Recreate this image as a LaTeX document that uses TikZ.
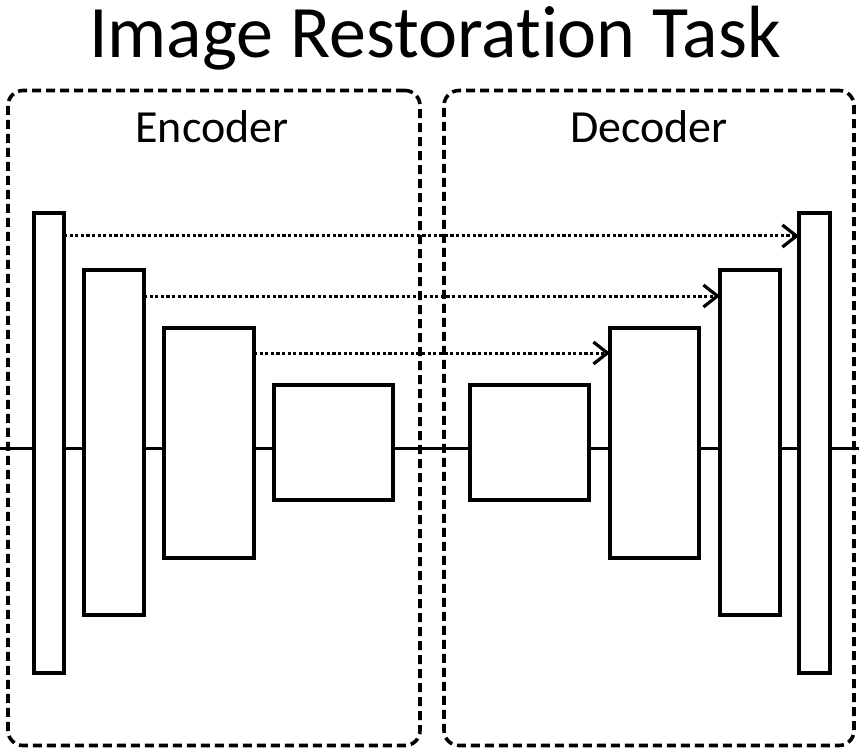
\documentclass[tikz,border=0pt]{standalone}
\usepackage{fontspec}
\setmainfont{Carlito}[Ligatures=NoCommon]
\usetikzlibrary{arrows.meta}

\tikzset{
  panel/.style={draw, line width=3.6pt, dash pattern=on 9pt off 5pt,
    rounded corners=15pt, inner sep=0pt, outer sep=0pt},
  block/.style={draw, fill=white, line width=3.4pt, inner sep=0pt, outer sep=0pt},
  spine/.style={line width=3pt},
  skip/.style={line width=3pt, dash pattern=on 3.2pt off 2.4pt,
    -{Straight Barb[length=14pt,width=22pt,line width=3.2pt]}},
  heading/.style={font=\fontsize{74}{80}\selectfont, anchor=base, inner sep=0pt},
  label/.style={font=\fontsize{46}{50}\selectfont, anchor=base, inner sep=0pt},
}

\begin{document}
\begin{tikzpicture}[x=1pt, y=-1pt]
  \useasboundingbox (0,0) rectangle (859,751);

  % title
  \node[heading] (title) at (435,58) {Image Restoration Task};

  % encoder / decoder panels
  \node[panel, minimum width=412pt, minimum height=655pt] (enc) at (214,418) {};
  \node[panel, minimum width=410pt, minimum height=655pt] (dec) at (649,418) {};
  \node[label] (enclab) at (212,143) {Encoder};
  \node[label] (declab) at (649,143) {Decoder};

  % main data path
  \coordinate (in) at (0,448);
  \coordinate (out) at (859,448);
  \draw[spine] (in) -- (out);

  % encoder blocks
  \node[block, minimum width=30pt, minimum height=460pt] (e1) at (49,443) {};
  \node[block, minimum width=60pt, minimum height=345pt] (e2) at (114,442.5) {};
  \node[block, minimum width=90pt, minimum height=230pt] (e3) at (209,443) {};
  \node[block, minimum width=119pt, minimum height=115pt] (e4) at (333.5,442.5) {};

  % decoder blocks
  \node[block, minimum width=119pt, minimum height=115pt] (d4) at (529.5,442.5) {};
  \node[block, minimum width=89pt, minimum height=230pt] (d3) at (654.5,443) {};
  \node[block, minimum width=60pt, minimum height=345pt] (d2) at (750,442.5) {};
  \node[block, minimum width=31pt, minimum height=460pt] (d1) at (814.5,443) {};

  % skip connections
  \draw[skip] ([yshift=-23pt]e1.north east) -- ([yshift=-23pt]d1.north west);
  \draw[skip] ([yshift=-26pt]e2.north east) -- ([yshift=-26pt]d2.north west);
  \draw[skip] ([yshift=-25pt]e3.north east) -- ([yshift=-25pt]d3.north west);
\end{tikzpicture}
\end{document}
